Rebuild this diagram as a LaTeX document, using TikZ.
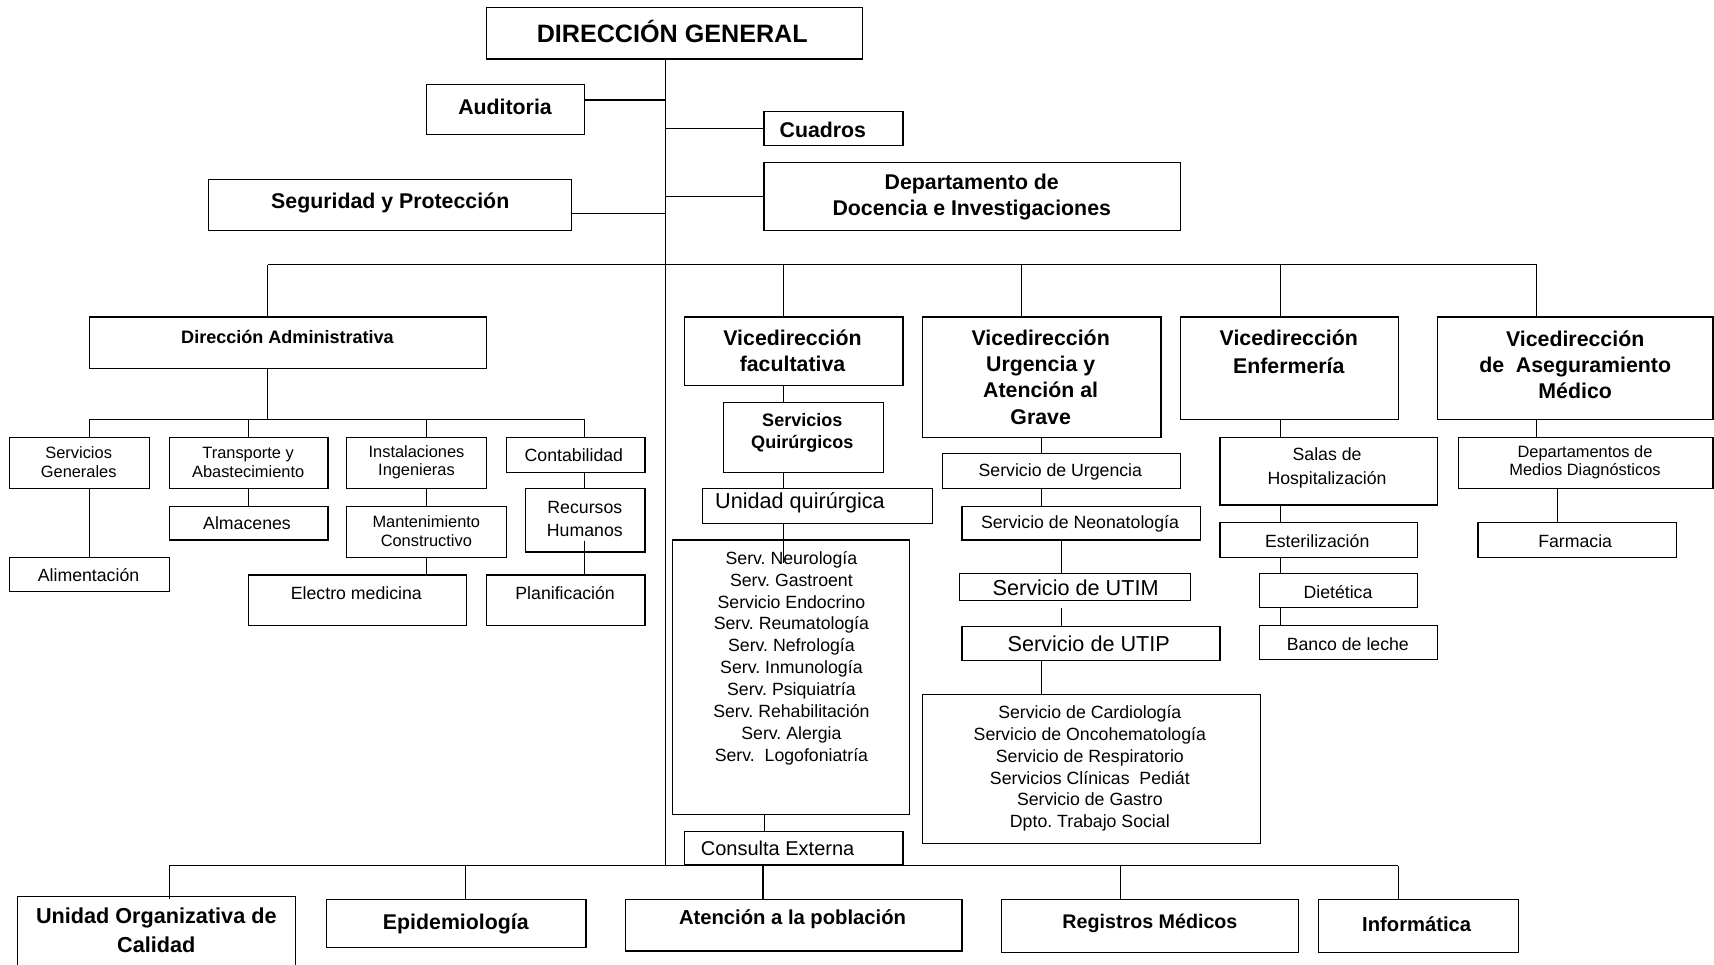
\documentclass[tikz,border=0pt]{standalone}
\usepackage{fontspec}
\setmainfont{Liberation Sans}
\usetikzlibrary{fit}
\frenchspacing
\tikzset{
  obox/.style={draw, line width=1.1pt, inner sep=0pt},
  conn/.style={line width=1pt},
  txt/.style={inner sep=0pt, align=center},
  fDG/.style={txt, font=\fontsize{23}{27}\selectfont\bfseries},
  fB/.style={txt, font=\fontsize{19.5}{24}\selectfont\bfseries},
  fBs/.style={txt, font=\fontsize{16.5}{20}\selectfont\bfseries},
  fR/.style={txt, font=\fontsize{16.2}{20}\selectfont},
  fRs/.style={txt, font=\fontsize{15}{17}\selectfont},
  fRL/.style={txt, font=\fontsize{19.8}{22}\selectfont},
  fCE/.style={txt, font=\fontsize{18.3}{20}\selectfont},
}
\newcommand{\ob}[5]{\node[obox, fit={(#2,#3) (#4,#5)}] (#1) {};}
\begin{document}
\begin{tikzpicture}[x=1pt, y=-1pt]
\useasboundingbox (0,0) rectangle (1568,882);
% ---------- boxes ----------
\ob{DG}{445}{7}{789}{54}
\ob{Aud}{390}{77}{535}{123}
\ob{Cua}{699}{102}{826}{133}
\ob{Seg}{191}{164}{523}{211}
\ob{Doc}{699}{149}{1080}{211}
\ob{DA}{82}{290}{445}{337}
\ob{VF}{626}{290}{826}{353}
\ob{VU}{844}{290}{1062}{400}
\ob{VE}{1080}{290}{1279}{384}
\ob{VA}{1315}{290}{1567}{384}
\ob{SG}{9}{400}{137}{447}
\ob{TA}{155}{400}{300}{447}
\ob{II}{317}{400}{445}{447}
\ob{Con}{463}{400}{590}{432}
\ob{Alm}{155}{463}{300}{494}
\ob{MC}{317}{463}{463}{510}
\ob{RH}{481}{447}{590}{505}
\ob{Ali}{9}{510}{155}{541}
\ob{EM}{227}{526}{427}{572}
\ob{Pla}{445}{526}{590}{572}
\ob{SQ}{662}{368}{808}{432}
\ob{UQ}{643}{447}{853}{479}
\ob{NL}{615}{494}{832}{745}
\ob{CE}{626}{761}{826}{791}
\ob{SU}{862}{415}{1080}{447}
\ob{SN}{880}{463}{1098}{494}
\ob{UTIM}{878}{525}{1089}{549}
\ob{UTIP}{880}{573}{1116}{604}
\ob{CL}{844}{635}{1153}{772}
\ob{SH}{1116}{400}{1315}{462}
\ob{Est}{1116}{478}{1297}{510}
\ob{Die}{1152}{525}{1297}{556}
\ob{BL}{1152}{572}{1315}{603}
\ob{DM}{1334}{400}{1567}{447}
\ob{Far}{1352}{478}{1534}{510}
\ob{UOC}{16}{820}{270}{892}
\ob{Epi}{299}{823}{536}{867}
\ob{Ate}{572}{823}{880}{870}
\ob{Reg}{916}{823}{1188}{871}
\ob{Inf}{1206}{823}{1389}{871}
% ---------- texts ----------
\node[fDG] (DG-t) at (615,28.5) {DIRECCIÓN GENERAL};
\node[fB] (Aud-t) at (462,98) {Auditoria};
\node[fB, anchor=west] (Cua-t) at (713,119) {Cuadros};
\node[fB] (Seg-t) at (357,186) {Seguridad y Protección};
\node[fB] (Doc-t) at (889,180.5) {Departamento de\\Docencia e Investigaciones};
\node[fBs] (DA-t) at (263,308) {Dirección Administrativa};
\node[fB] (VF-t) at (725,321) {Vicedirección\\facultativa};
\node[fB] (VU-t) at (952,345) {Vicedirección\\Urgencia y\\Atención al\\Grave};
\node[fB, font=\fontsize{19.5}{26}\selectfont\bfseries] (VE-t) at (1179,322) {Vicedirección\\Enfermería};
\node[fB] (VA-t) at (1441,333.5) {Vicedirección\\de\ \ Aseguramiento\\Médico};
\node[fRs] (SG-t) at (72,423) {Servicios\\Generales};
\node[fRs] (TA-t) at (227,423) {Transporte y\\Abastecimiento};
\node[fRs] (II-t) at (381,423) {Instalaciones\\Ingenieras};
\node[fR] (Con-t) at (525,416) {Contabilidad};
\node[fR] (Alm-t) at (226,479) {Almacenes};
\node[fRs] (MC-t) at (390,486) {Mantenimiento\\Constructivo};
\node[fR, font=\fontsize{16.2}{21}\selectfont] (RH-t) at (535,475) {Recursos\\Humanos};
\node[fR] (Ali-t) at (81,526) {Alimentación};
\node[fR] (EM-t) at (326,543) {Electro medicina};
\node[fR] (Pla-t) at (517,543) {Planificación};
\node[fBs] (SQ-t) at (734,396) {Servicios\\Quirúrgicos};
\node[fRL, anchor=west] (UQ-t) at (654,460) {Unidad quirúrgica};
\node[fR] (NL-t) at (724,602) {Serv. Neurología\\Serv. Gastroent\\Servicio Endocrino\\Serv. Reumatología\\Serv. Nefrología\\Serv. Inmunología\\Serv. Psiquiatría\\Serv. Rehabilitación\\Serv. Alergia\\Serv.\ \ Logofoniatría};
\node[fCE, anchor=west] (CE-t) at (641,776) {Consulta Externa};
\node[fR] (SU-t) at (970,432) {Servicio de Urgencia};
\node[fR] (SN-t) at (988,479) {Servicio de Neonatología};
\node[fRL] (UTIM-t) at (984,538) {Servicio de UTIM};
\node[fRL] (UTIP-t) at (996,589) {Servicio de UTIP};
\node[fR] (CL-t) at (997,703) {Servicio de Cardiología\\Servicio de Oncohematología\\Servicio de Respiratorio\\Servicios Clínicas\ \ Pediát\\Servicio de Gastro\\Dpto. Trabajo Social};
\node[fR, font=\fontsize{16.2}{22}\selectfont] (SH-t) at (1214,428) {Salas de\\Hospitalización};
\node[fR] (Est-t) at (1205,495) {Esterilización};
\node[fR] (Die-t) at (1224,542) {Dietética};
\node[fR] (BL-t) at (1233,589) {Banco de leche};
\node[fRs] (DM-t) at (1450,423) {Departamentos de\\Medios Diagnósticos};
\node[fR] (Far-t) at (1441,495) {Farmacia};
\node[fB, font=\fontsize{19.8}{26}\selectfont\bfseries] (UOC-t) at (143,851) {Unidad Organizativa de\\Calidad};
\node[fB] (Epi-t) at (417,845) {Epidemiología};
\node[fB, font=\fontsize{18.5}{22}\selectfont\bfseries] (Ate-t) at (725,841) {Atención a la población};
\node[fB, font=\fontsize{18}{22}\selectfont\bfseries] (Reg-t) at (1052,845) {Registros Médicos};
\node[fB, font=\fontsize{18.5}{22}\selectfont\bfseries] (Inf-t) at (1296,845) {Informática};
% ---------- coordinates ----------
\coordinate (spine) at (608.5,0);
\coordinate (bus1) at (0,242);
\coordinate (bus2) at (0,792);
\coordinate (abus) at (0,383.5);
\coordinate (xDA) at (245,0);
\coordinate (xVF) at (717,0);
\coordinate (xVU) at (934.5,0);
\coordinate (xVE) at (1171,0);
\coordinate (xVA) at (1406,0);
\coordinate (xSG) at (82,0);
\coordinate (xTA) at (227.5,0);
\coordinate (xII) at (390,0);
\coordinate (xCon) at (535,0);
\coordinate (xU) at (953,0);
\coordinate (xU2) at (971,0);
\coordinate (xNL) at (699,0);
\coordinate (xFar) at (1425,0);
\coordinate (xUOC) at (155,0);
\coordinate (xEpi) at (426,0);
\coordinate (xAte) at (698,0);
\coordinate (xReg) at (1025,0);
\coordinate (xInf) at (1279,0);
\coordinate (rhIn) at ([yshift=11pt]RH.south);
\coordinate (nlIn) at (717,515);
% ---------- connectors ----------
\draw[conn] (DG.south -| spine) -- (bus2 -| spine);
\draw[conn] ([yshift=8.5pt]Aud.east) -- ([yshift=8.5pt]Aud.east -| spine);
\draw[conn] (Cua.west) -- (Cua.west -| spine);
\draw[conn] ([yshift=-7.5pt]Seg.east) -- ([yshift=-7.5pt]Seg.east -| spine);
\draw[conn] (Doc.west) -- (Doc.west -| spine);
% bus 1
\draw[conn] (bus1 -| xDA) -- (bus1 -| xVA);
\draw[conn] (bus1 -| xDA) -- (DA.north -| xDA);
\draw[conn] (bus1 -| xVF) -- (VF.north -| xVF);
\draw[conn] (bus1 -| xVU) -- (VU.north -| xVU);
\draw[conn] (bus1 -| xVE) -- (VE.north -| xVE);
\draw[conn] (bus1 -| xVA) -- (VA.north -| xVA);
% administrativa
\draw[conn] (DA.south -| xDA) -- (abus -| xDA);
\draw[conn] (abus -| xSG) -- (abus -| xCon);
\draw[conn] (abus -| xSG) -- (SG.north -| xSG);
\draw[conn] (abus -| xTA) -- (TA.north -| xTA);
\draw[conn] (abus -| xII) -- (II.north -| xII);
\draw[conn] (abus -| xCon) -- (Con.north -| xCon);
\draw[conn] (SG.south -| xSG) -- (Ali.north -| xSG);
\draw[conn] (TA.south -| xTA) -- (Alm.north -| xTA);
\draw[conn] (II.south -| xII) -- (MC.north -| xII);
\draw[conn] (MC.south -| xII) -- (EM.north -| xII);
\draw[conn] (Con.south -| xCon) -- (RH.north -| xCon);
\draw[conn] (rhIn -| xCon) -- (Pla.north -| xCon);
% facultativa
\draw[conn] (VF.south -| xVF) -- (SQ.north -| xVF);
\draw[conn] (SQ.south -| xVF) -- (UQ.north -| xVF);
\draw[conn] (UQ.south -| xVF) -- (nlIn);
\draw[conn] (NL.south -| xNL) -- (CE.north -| xNL);
\draw[conn] (CE.south -| xAte) -- (Ate.north -| xAte);
% urgencia
\draw[conn] (VU.south -| xU) -- (SU.north -| xU);
\draw[conn] (SU.south -| xU) -- (SN.north -| xU);
\draw[conn] (SN.south -| xU2) -- (UTIM.north -| xU2);
\draw[conn, shorten <=7pt] (UTIM.south -| xU2) -- (UTIP.north -| xU2);
\draw[conn] (UTIP.south -| xU) -- (CL.north -| xU);
% enfermeria
\draw[conn] (VE.south -| xVE) -- (SH.north -| xVE);
\draw[conn] (SH.south -| xVE) -- (Est.north -| xVE);
\draw[conn] (Est.south -| xVE) -- (Die.north -| xVE);
\draw[conn] (Die.south -| xVE) -- (BL.north -| xVE);
% aseguramiento
\draw[conn] (VA.south -| xVA) -- (DM.north -| xVA);
\draw[conn] (DM.south -| xFar) -- (Far.north -| xFar);
% bus 2
\draw[conn] (bus2 -| xUOC) -- (bus2 -| xInf);
\draw[conn] (bus2 -| xUOC) -- ([yshift=-3pt]UOC.north -| xUOC);
\draw[conn] (bus2 -| xEpi) -- (Epi.north -| xEpi);
\draw[conn] (bus2 -| xReg) -- (Reg.north -| xReg);
\draw[conn] (bus2 -| xInf) -- (Inf.north -| xInf);
\end{tikzpicture}
\end{document}
